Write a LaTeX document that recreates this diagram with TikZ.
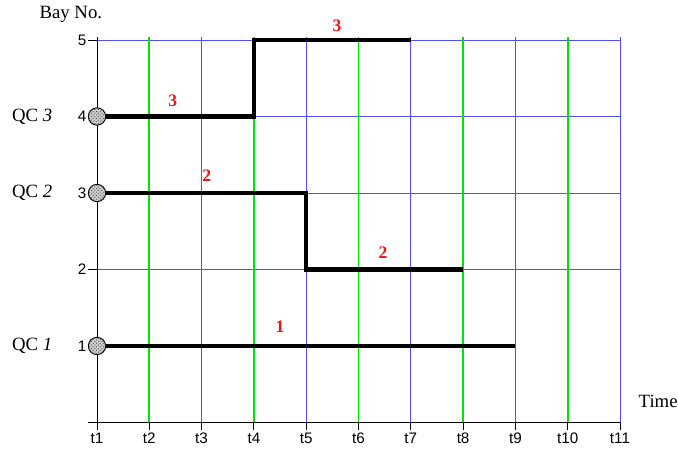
\documentclass[tikz,border=0pt]{standalone}
\usepackage{fontspec}
\setmainfont{Liberation Serif}
\newfontfamily\axisfont{Liberation Sans}
\usepackage{xcolor}
\usetikzlibrary{patterns,positioning}
\definecolor{qcBlue}  {RGB}{ 80, 80,250}
\definecolor{qcGreen} {RGB}{  0,230,  0}
\definecolor{qcRed}   {RGB}{240, 20, 20}

\begin{document}
\begin{tikzpicture}[
  x=1.569cm, y=2.295cm,
  every node/.style={font=\fontsize{16}{18}\selectfont},
  axis/.style={black,line width=0.8pt},
  gridb/.style={qcBlue,line width=0.8pt},
  gridg/.style={qcGreen,line width=1.4pt},
  tick/.style={font=\axisfont\fontsize{13}{15}\selectfont,inner sep=1pt},
  route/.style={black,line width=3.8pt,line join=miter},
  start/.style={circle,draw=black,line width=0.8pt,fill=gray!40,
                minimum size=0.52cm,inner sep=0pt,
                postaction={pattern=crosshatch dots,pattern color=gray!50!black}},
  seq/.style={qcRed,font=\bfseries\fontsize{15}{17}\selectfont}
]
\useasboundingbox (-2.91cm,-0.945cm) rectangle (17.43cm,12.675cm);

% grid
\foreach \y in {2,...,5} \draw[gridb] (0,\y) -- (10,\y);
\foreach \x in {2,4,...,10} \draw[gridb] (\x,0) -- (\x,5.045);
\foreach \x in {1,3,...,9} \draw[gridg] (\x,0) -- (\x,5.045);

% axes
\draw[axis] (-0.17,0) -- (10,0);
\draw[axis] (0,-0.1) -- (0,5.045);
\foreach \y in {1,...,5}
  \draw[axis] (0,\y) -- (-0.17,\y) node[tick,left] {\y};
\foreach \x [evaluate=\x as \n using int(\x+1)] in {0,...,10}
  \draw[axis] (\x,0) -- (\x,-0.1) node[tick,below=1pt] {t\n};

\node (bay)  at (-0.5,5.33) {Bay No.};
\node (time) at (10.73,0.28) {Time};

% quay cranes
\node[start] (qc3) at (0,4) {};
\node[start] (qc2) at (0,3) {};
\node[start] (qc1) at (0,1) {};
\node (l3) at (-1.24,4) {QC \textit{3}};
\node (l2) at (-1.24,3) {QC \textit{2}};
\node (l1) at (-1.24,1) {QC \textit{1}};

\draw[route] (qc3.east) -- (3,4) -- (3,5) -- (6,5);
\draw[route] (qc2.east) -- (4,3) -- (4,2) -- (7,2);
\draw[route] (qc1.east) -- (8,1);

\node[seq] (s3a) at (1.45,4.2) {3};
\node[seq] (s3b) at (4.59,5.18) {3};
\node[seq] (s2a) at (2.1,3.22) {2};
\node[seq] (s2b) at (5.47,2.22) {2};
\node[seq] (s1)  at (3.5,1.25) {1};
\end{tikzpicture}
\end{document}
